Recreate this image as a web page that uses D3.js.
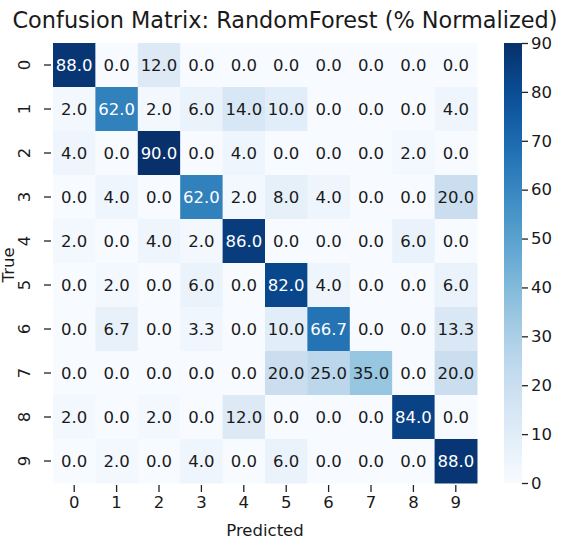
<!DOCTYPE html>
<html><head><meta charset="utf-8">
<script src="https://cdn.jsdelivr.net/npm/d3@7"></script>
<style>body{margin:0;background:#fff}svg{display:block}text{font-family:"DejaVu Sans",sans-serif;fill:#1a1a1a}</style>
</head><body><svg id="c" width="570" height="548"></svg>
<script>
const rowLabels = ["0","1","2","3","4","5","6","7","8","9"];
const colLabels = ["0","1","2","3","4","5","6","7","8","9"];
const matrix = [
  [88.0,0.0,12.0,0.0,0.0,0.0,0.0,0.0,0.0,0.0],
  [2.0,62.0,2.0,6.0,14.0,10.0,0.0,0.0,0.0,4.0],
  [4.0,0.0,90.0,0.0,4.0,0.0,0.0,0.0,2.0,0.0],
  [0.0,4.0,0.0,62.0,2.0,8.0,4.0,0.0,0.0,20.0],
  [2.0,0.0,4.0,2.0,86.0,0.0,0.0,0.0,6.0,0.0],
  [0.0,2.0,0.0,6.0,0.0,82.0,4.0,0.0,0.0,6.0],
  [0.0,6.7,0.0,3.3,0.0,10.0,66.7,0.0,0.0,13.3],
  [0.0,0.0,0.0,0.0,0.0,20.0,25.0,35.0,0.0,20.0],
  [2.0,0.0,2.0,0.0,12.0,0.0,0.0,0.0,84.0,0.0],
  [0.0,2.0,0.0,4.0,0.0,6.0,0.0,0.0,0.0,88.0]
];
const cbTicks = [0,10,20,30,40,50,60,70,80,90];
const title = "Confusion Matrix: RandomForest (% Normalized)";
const xTitle = "Predicted", yTitle = "True";

const svg = d3.select("#c");
const L = 53, T = 43, W = 424, H = 440;
const FS = 16.5;
const x = d3.scaleBand().domain(colLabels).range([L, L+W]);
const y = d3.scaleBand().domain(rowLabels).range([T, T+H]);
const color = d3.scaleSequential(d3.interpolateBlues).domain([0, 90]);

const cells = [];
matrix.forEach((r,i)=>r.forEach((v,j)=>cells.push({r:rowLabels[i],c:colLabels[j],v})));

const g = svg.append("g");
g.selectAll("rect").data(cells).join("rect")
  .attr("x",d=>x(d.c)).attr("y",d=>y(d.r))
  .attr("width",x.bandwidth()+0.5).attr("height",y.bandwidth()+0.5)
  .attr("fill",d=>color(d.v));
g.selectAll("text").data(cells).join("text")
  .attr("x",d=>x(d.c)+x.bandwidth()/2).attr("y",d=>y(d.r)+y.bandwidth()/2)
  .attr("text-anchor","middle").attr("dy","0.36em")
  .attr("font-size",FS)
  .style("fill",d=>d.v>45?"#ffffff":"#1a1a1a")
  .text(d=>d.v.toFixed(1));

// x axis
const xa = svg.append("g").attr("transform",`translate(0,${T+H+2})`)
  .call(d3.axisBottom(x).tickSize(7).tickPadding(4));
xa.select(".domain").remove();
xa.selectAll("line").attr("stroke","#222").attr("stroke-width",1.3);
xa.selectAll("text").attr("font-size",FS).style("fill","#1a1a1a").attr("font-family","DejaVu Sans");

// y axis
const ya = svg.append("g").attr("transform",`translate(${L-2},0)`)
  .call(d3.axisLeft(y).tickSize(7).tickPadding(4));
ya.select(".domain").remove();
ya.selectAll("line").attr("stroke","#222").attr("stroke-width",1.3);
ya.selectAll("text").attr("font-size",FS).style("fill","#1a1a1a").attr("font-family","DejaVu Sans")
  .attr("text-anchor","middle").attr("dy",null)
  .attr("transform","translate(-27,0) rotate(-90)")
  .attr("x",0).attr("y",6);

// titles
svg.append("text").attr("x",285).attr("y",28).attr("text-anchor","middle")
  .attr("font-size",22.4).text(title);
svg.append("text").attr("x",L+W/2).attr("y",536).attr("text-anchor","middle")
  .attr("font-size",FS).text(xTitle);
svg.append("text").attr("transform",`translate(14,${T+H/2+2}) rotate(-90)`).attr("text-anchor","middle")
  .attr("font-size",FS).text(yTitle);

// colorbar
const cbx = 504, cbw = 18;
const cy = d3.scaleLinear().domain([0,90]).range([T+H, T]);
const defs = svg.append("defs");
const grad = defs.append("linearGradient").attr("id","cbg").attr("x1",0).attr("x2",0).attr("y1",1).attr("y2",0);
d3.range(0,1.0001,0.05).forEach(t=>grad.append("stop").attr("offset",t).attr("stop-color",color(t*90)));
svg.append("rect").attr("x",cbx).attr("y",T).attr("width",cbw).attr("height",H).attr("fill","url(#cbg)");
const ca = svg.append("g").attr("transform",`translate(${cbx+cbw},0)`)
  .call(d3.axisRight(cy).tickValues(cbTicks).tickSize(6).tickPadding(3));
ca.select(".domain").remove();
ca.selectAll("line").attr("stroke","#222").attr("stroke-width",1.3);
ca.selectAll("text").attr("font-size",FS).style("fill","#1a1a1a").attr("font-family","DejaVu Sans");
</script></body></html>
